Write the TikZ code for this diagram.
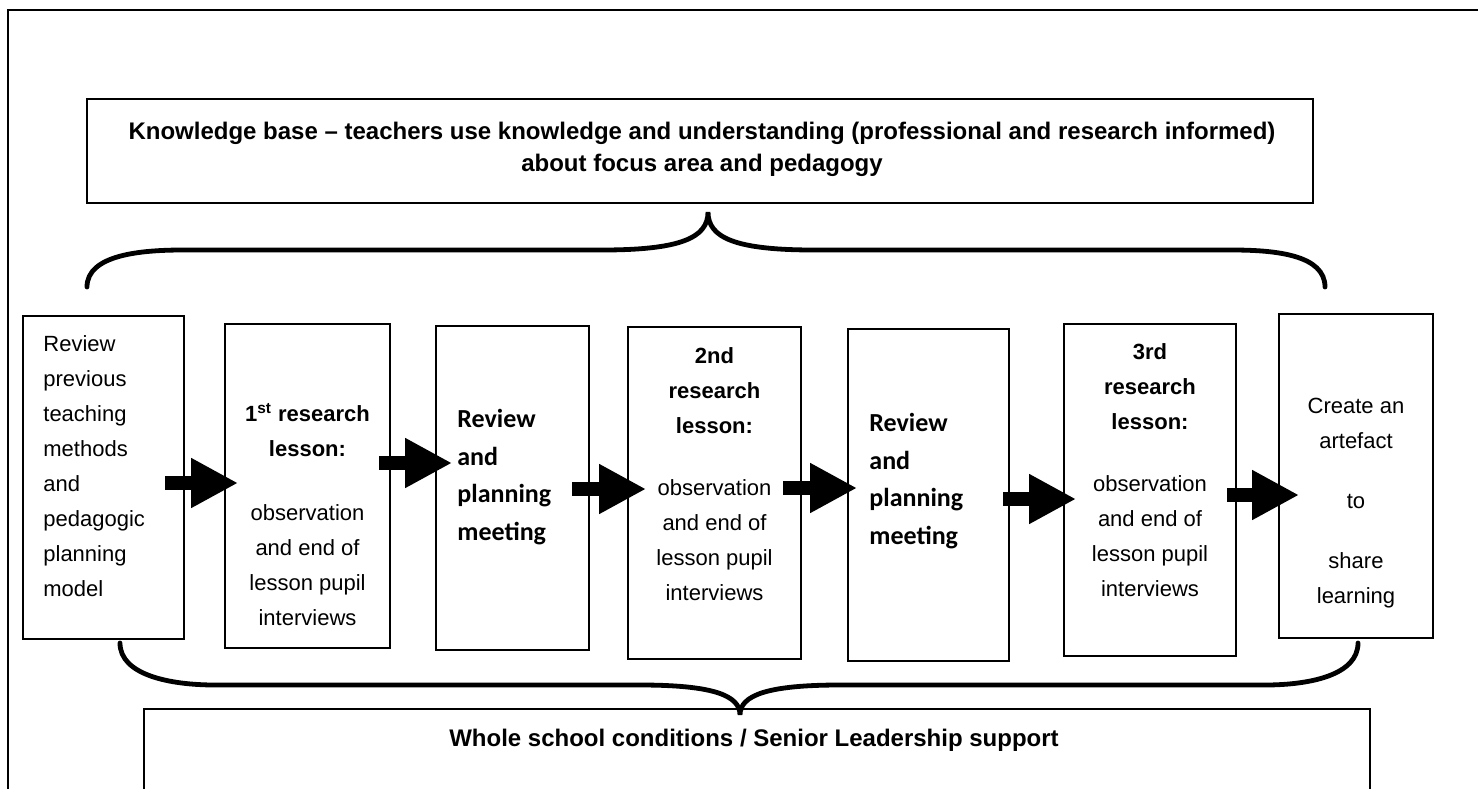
\documentclass[tikz,border=0pt]{standalone}
\usepackage{fontspec}
\setmainfont{Liberation Sans}
\newfontfamily\califont{Carlito}
\usetikzlibrary{arrows.meta,fit,calc}
\begin{document}
\begin{tikzpicture}[x=0.5pt,y=-0.5pt,
  box/.style={draw=black,line width=0.9pt,inner sep=0pt},
  body/.style={font=\fontsize{11}{17.5}\selectfont,inner sep=0pt,align=center},
  bodyleft/.style={font=\fontsize{11}{17.5}\selectfont,inner sep=0pt,align=left},
  calbox/.style={font=\califont\bfseries\fontsize{13}{18.7}\selectfont,inner sep=0pt,align=left},
  headtext/.style={font=\bfseries\fontsize{12}{16}\selectfont,inner sep=0pt,align=center},
  blockarrow/.style={line width=7pt,-{Triangle[length=23.5pt,width=23.5pt]}},
  brace/.style={line width=2.4pt,line cap=round}
]
\clip (0,0) rectangle (1484,788);
\useasboundingbox (0,0) rectangle (1484,788);
% outer frame
\draw[line width=1.35pt] (8,800) -- (8,10) -- (1478,10);

% knowledge base box
\node[box,fit={(87,99) (1313,203)}] (kb) {};
\node[headtext] (kbt) at (702,149) {Knowledge base -- teachers use knowledge and understanding (professional and research informed)\\about focus area and pedagogy};

% top brace
\coordinate (tbl) at (87,287);
\coordinate (tbt) at (708,212);
\coordinate (tbr) at (1325,287);
\draw[brace] (tbl) .. controls (87,255) and (140,250) .. (183,250) -- (602,250)
  .. controls (680,250) and (708,238) .. (tbt)
  .. controls (708,238) and (736,250) .. (814,250) -- (1232,250)
  .. controls (1276,250) and (1325,255) .. (tbr);

% process boxes
\node[box,fit={(23,316) (184,639)}] (b1) {};
\node[box,fit={(225,324) (390,648)}] (b2) {};
\node[box,fit={(436,326) (589,650)}] (b3) {};
\node[box,fit={(628,327) (801,659)}] (b4) {};
\node[box,fit={(848,329) (1009,661)}] (b5) {};
\node[box,fit={(1064,324) (1236,656)}] (b6) {};
\node[box,fit={(1279,314) (1433,638)}] (b7) {};

% texts
\node[bodyleft,anchor=west] (t1) at (43,466) {Review\\previous\\teaching\\methods\\and\\pedagogic\\planning\\model};
\node[body] (t2) at (307.5,515) {\textbf{1\textsuperscript{st} research}\\\textbf{lesson:}\\[14.5pt]observation\\and end of\\lesson pupil\\interviews};
\node[calbox,anchor=west] (t3) at (457,477) {Review\\and\\planning\\meeting};
\node[body] (t4) at (714.5,474) {\textbf{2nd}\\\textbf{research}\\\textbf{lesson:}\\[13.5pt]observation\\and end of\\lesson pupil\\interviews};
\node[calbox,anchor=west] (t5) at (869,481) {Review\\and\\planning\\meeting};
\node[body] (t6) at (1150,470) {\textbf{3rd}\\\textbf{research}\\\textbf{lesson:}\\[13.5pt]observation\\and end of\\lesson pupil\\interviews};
\node[body] (t7) at (1356,503) {Create an\\artefact\\[12.5pt]to\\[12.5pt]share\\learning};

% arrows
\coordinate (a1s) at (165,483); \coordinate (a1e) at (238,483);
\coordinate (a2s) at (379,463); \coordinate (a2e) at (452,463);
\coordinate (a3s) at (572,489); \coordinate (a3e) at (646,489);
\coordinate (a4s) at (783,488); \coordinate (a4e) at (857,488);
\coordinate (a5s) at (1003,499); \coordinate (a5e) at (1076,499);
\coordinate (a6s) at (1227,495); \coordinate (a6e) at (1299,495);
\draw[blockarrow] (a1s) -- (a1e);
\draw[blockarrow] (a2s) -- (a2e);
\draw[blockarrow] (a3s) -- (a3e);
\draw[blockarrow] (a4s) -- (a4e);
\draw[blockarrow] (a5s) -- (a5e);
\draw[blockarrow] (a6s) -- (a6e);

% bottom brace
\coordinate (bbl) at (120,643);
\coordinate (bbt) at (740,715);
\coordinate (bbr) at (1358,643);
\draw[brace] (bbl) .. controls (120,675) and (170,685) .. (215,685) -- (640,685)
  .. controls (712,685) and (740,695) .. (bbt)
  .. controls (740,695) and (768,685) .. (840,685) -- (1265,685)
  .. controls (1310,685) and (1358,675) .. (bbr);

% bottom box
\node[box,fit={(144,709) (1370,820)}] (ws) {};
\node[headtext] (wst) at (754,740) {Whole school conditions / Senior Leadership support};
\end{tikzpicture}
\end{document}
